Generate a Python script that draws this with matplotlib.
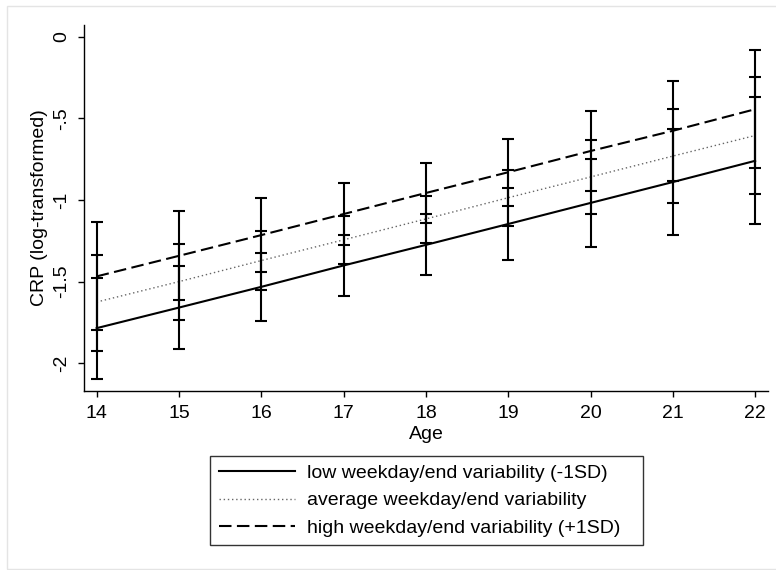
import matplotlib
matplotlib.use("Agg")
import matplotlib.pyplot as plt
from matplotlib.patches import Rectangle

plt.rcParams['font.family'] = ['Liberation Sans', 'DejaVu Sans']

ages = [14, 15, 16, 17, 18, 19, 20, 21, 22]

low_est = [-1.785, -1.659, -1.532, -1.401, -1.275, -1.147, -1.018, -0.890, -0.760]
low_lo = [-2.094, -1.911, -1.739, -1.586, -1.461, -1.366, -1.286, -1.214, -1.149]
low_hi = [-1.476, -1.406, -1.325, -1.216, -1.088, -0.927, -0.749, -0.565, -0.371]

avg_est = [-1.625, -1.500, -1.371, -1.244, -1.116, -0.986, -0.859, -0.731, -0.605]
avg_lo = [-1.923, -1.735, -1.549, -1.392, -1.263, -1.157, -1.086, -1.020, -0.961]
avg_hi = [-1.335, -1.268, -1.192, -1.096, -0.974, -0.814, -0.631, -0.441, -0.245]

high_est = [-1.468, -1.342, -1.215, -1.086, -0.957, -0.830, -0.700, -0.576, -0.444]
high_lo = [-1.798, -1.614, -1.439, -1.277, -1.141, -1.035, -0.947, -0.882, -0.806]
high_hi = [-1.137, -1.069, -0.990, -0.894, -0.773, -0.625, -0.453, -0.269, -0.081]

labels = ["low weekday/end variability (-1SD)",
          "average weekday/end variability",
          "high weekday/end variability (+1SD)"]

yticks = [0, -0.5, -1, -1.5, -2]
yticklabels = ["0", "-.5", "-1", "-1.5", "-2"]

W, H = 776, 570
fig = plt.figure(figsize=(W / 100, H / 100), dpi=100)
fig.patch.set_facecolor('white')

# outer light frame
fig.patches.append(Rectangle((7 / W, 1 / H), 1.2, 1 - 7 / H, transform=fig.transFigure,
                             fill=False, edgecolor='#e4e4e4', linewidth=1.0))

ax = fig.add_axes([84.3 / W, 1 - 391 / H, (768.3 - 84.3) / W, (391 - 25) / H])

series = [
    (low_est, low_lo, low_hi, dict(color='black', lw=1.5, ls='-')),
    (avg_est, avg_lo, avg_hi, dict(color='#666666', lw=1.0, ls=(0, (1, 2)))),
    (high_est, high_lo, high_hi, dict(color='black', lw=1.5, ls=(0, (6, 2.6)))),
]

handles = []
for (est, lo, hi, st), lab in zip(series, labels):
    h, = ax.plot(ages, est, label=lab, **st)
    handles.append(h)
    yerr = [[e - l for e, l in zip(est, lo)], [u - e for e, u in zip(est, hi)]]
    ax.errorbar(ages, est, yerr=yerr, fmt='none', ecolor='black',
                elinewidth=1.5, capsize=4.5, capthick=1.5)

ax.set_xlim(13.85, 22.16)
ax.set_ylim(-2.17, 0.072)
ax.set_xticks(ages)
ax.set_yticks(yticks)
ax.set_yticklabels(yticklabels, rotation=90, va='center')

for s in ['top', 'right']:
    ax.spines[s].set_visible(False)
for s in ['left', 'bottom']:
    ax.spines[s].set_linewidth(1.0)

ax.tick_params(axis='both', length=4, width=1.0, labelsize=14, direction='out')
ax.tick_params(axis='x', pad=6)
ax.tick_params(axis='y', pad=6)

ax.set_xlabel("Age", fontsize=14, labelpad=3)
ax.set_ylabel("CRP (log-transformed)", fontsize=14, labelpad=4)

leg = fig.legend(handles=handles, labels=labels, loc='upper left',
                 bbox_to_anchor=(210 / W, 1 - 546 / H, (643.3 - 210) / W, (546 - 455.7) / H),
                 mode='expand', fontsize=14,
                 frameon=True, fancybox=False, edgecolor='black',
                 handlelength=3.9, handletextpad=0.65, labelspacing=0.5,
                 borderpad=0.45, borderaxespad=0)
leg.get_frame().set_linewidth(1.0)

fig.savefig("out.png", dpi=100, facecolor='white')
